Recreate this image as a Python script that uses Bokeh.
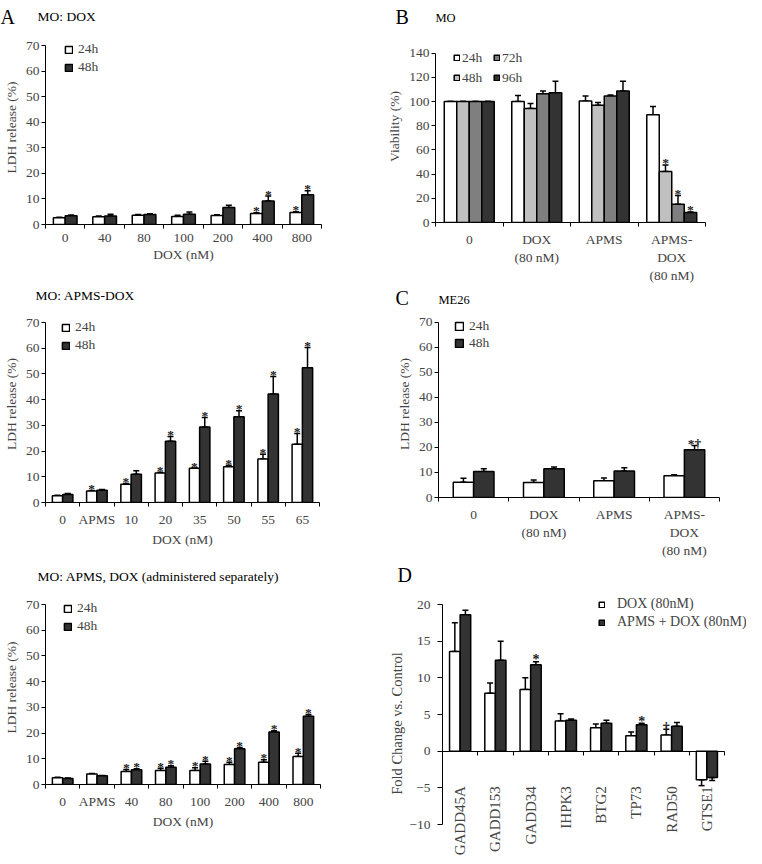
import math
from bokeh.plotting import figure
from bokeh.models import (Range1d, FixedTicker, SingleIntervalTicker, Legend, LegendItem,
                          Whisker, TeeHead, ColumnDataSource, Label)
from bokeh.layouts import row, column
from bokeh.embed import file_html
from bokeh.resources import INLINE
from bokeh.core.properties import value

FONT = "Liberation Serif"

# ---------------- data ----------------
# Panel A (top): MO: DOX
a1_labels = ["0", "40", "80", "100", "200", "400", "800"]
a1_24h = [2.6, 3.0, 3.6, 3.1, 3.5, 4.3, 4.7]
a1_24h_err = [0.2, 0.3, 0.3, 0.5, 0.3, 0.3, 0.3]
a1_48h = [3.4, 3.3, 3.9, 4.0, 6.6, 9.2, 11.6]
a1_48h_err = [0.3, 0.7, 0.3, 0.9, 0.9, 1.9, 1.6]
a1_24h_sig = ["", "", "", "", "", "*", "*"]
a1_48h_sig = ["", "", "", "", "", "*", "*"]

# Panel A (middle): MO: APMS-DOX
a2_labels = ["0", "APMS", "10", "20", "35", "50", "55", "65"]
a2_24h = [2.6, 4.5, 7.1, 11.5, 13.3, 13.9, 16.9, 22.7]
a2_24h_err = [0.2, 0.2, 0.3, 0.3, 0.1, 0.6, 1.9, 4.1]
a2_48h = [3.1, 4.8, 11.0, 23.8, 29.4, 33.3, 42.2, 52.4]
a2_48h_err = [0.4, 0.3, 1.3, 1.9, 3.7, 2.4, 6.8, 7.9]
a2_24h_sig = ["", "*", "*", "*", "*", "*", "*", "*"]
a2_48h_sig = ["", "", "", "*", "*", "*", "*", "*"]

# Panel A (bottom): MO: APMS, DOX (administered separately)
a3_labels = ["0", "APMS", "40", "80", "100", "200", "400", "800"]
a3_24h = [2.6, 4.1, 5.1, 5.4, 5.4, 7.8, 8.7, 10.9]
a3_24h_err = [0.2, 0.2, 0.7, 0.9, 1.1, 0.9, 0.9, 1.3]
a3_48h = [2.3, 3.4, 5.7, 6.7, 8.0, 13.9, 20.4, 26.5]
a3_48h_err = [0.2, 0.1, 0.4, 0.6, 1.0, 0.5, 0.5, 0.7]
a3_24h_sig = ["", "", "*", "*", "*", "*", "*", "*"]
a3_48h_sig = ["", "", "*", "*", "*", "*", "*", "*"]

# Panel B: MO viability
b_labels = ["0", "DOX\n(80 nM)", "APMS", "APMS-\nDOX\n(80 nM)"]
b_24h = [100, 100.0, 100.5, 89.1]
b_24h_err = [0, 5.0, 4.1, 6.8]
b_48h = [100, 94.3, 97.0, 42.1]
b_48h_err = [0, 4.1, 2.2, 5.5]
b_72h = [100, 106.5, 104.6, 15.0]
b_72h_err = [0, 2.2, 0.8, 7.3]
b_96h = [100, 107.3, 108.7, 8.2]
b_96h_err = [0, 9.5, 8.1, 0.5]
b_24h_sig = ["", "", "", ""]
b_48h_sig = ["", "", "", "*"]
b_72h_sig = ["", "", "", "*"]
b_96h_sig = ["", "", "", "*"]

# Panel C: ME26
c_labels = ["0", "DOX\n(80 nM)", "APMS", "APMS-\nDOX\n(80 nM)"]
c_24h = [6.1, 6.0, 6.7, 8.7]
c_24h_err = [1.6, 1.0, 1.1, 0.4]
c_48h = [10.4, 11.5, 10.6, 19.1]
c_48h_err = [1.1, 0.7, 1.3, 1.7]
c_24h_sig = ["", "", "", ""]
c_48h_sig = ["", "", "", "*\u2020"]

# Panel D: gene expression
d_genes = ["GADD45A", "GADD153", "GADD34", "IHPK3", "BTG2", "TP73", "RAD50", "GTSE1"]
d_dox = [13.6, 7.9, 8.4, 4.1, 3.2, 2.1, 2.2, -3.9]
d_dox_err = [3.9, 1.4, 1.6, 1.0, 0.5, 0.5, 0.8, 0.8]
d_apms = [18.6, 12.4, 11.8, 4.2, 3.8, 3.6, 3.4, -3.6]
d_apms_err = [0.6, 2.6, 0.4, 0.2, 0.4, 0.2, 0.5, 0.4]
d_dox_sig = ["", "", "", "", "", "", "\u2020", ""]
d_apms_sig = ["", "", "*", "", "", "*", "", ""]

WHITE, LIGHT, MID, DARK = "#ffffff", "#c0c0c0", "#7f7f7f", "#333333"

# page origin of the layout (observed)
OX, OY = 8, 0


def base_fig(w, h, cl, ct, fl, fr, ytop, ybot, fb, n, ylo, yhi, ystep, ylabel, xlabels,
             xlabel=None, fs="13.5px", yfs="13.5px", ylfs="13.5px", x_ext_right=0,
             ytick_out=4, ystandoff=2, ylab_standoff=4):
    """cl, ct: canvas left/top (page px); fl, fr: frame left/right; ytop/ybot: page px of yhi/ylo;
    fb: frame bottom page px."""
    ppu = (ybot - ytop) / float(yhi - ylo)
    y_end = yhi + (ytop - ct) / ppu
    y_start = ylo - (fb - ybot) / ppu
    xppu = (fr - fl) / float(n)
    p = figure(width=w, height=h, x_range=Range1d(-0.5, n - 0.5 + x_ext_right / xppu),
               y_range=Range1d(y_start, y_end),
               output_backend="svg", toolbar_location=None, frame_align=False,
               min_border_left=int(fl - cl), min_border_right=int(cl + w - fr - x_ext_right),
               min_border_top=0, min_border_bottom=int(ct + h - fb))
    p.outline_line_color = None
    p.grid.visible = False
    p.background_fill_color = "white"
    yax = p.yaxis[0]
    yax.bounds = (ylo, yhi)
    yax.ticker = SingleIntervalTicker(interval=ystep, num_minor_ticks=0)
    yax.minor_tick_line_color = None
    yax.major_tick_out = ytick_out
    yax.major_tick_in = 0
    yax.major_label_standoff = ystandoff
    yax.axis_label = ylabel
    yax.axis_label_standoff = ylab_standoff
    yax.axis_label_text_font = FONT
    yax.axis_label_text_font_style = "normal"
    yax.axis_label_text_font_size = ylfs
    yax.major_label_text_font = FONT
    yax.major_label_text_font_size = yfs
    yax.axis_line_color = "black"
    yax.major_tick_line_color = "black"
    xax = p.xaxis[0]
    xax.bounds = (-0.5, n - 0.5)
    xax.ticker = FixedTicker(ticks=list(range(n)), minor_ticks=[i - 0.5 for i in range(n + 1)])
    xax.major_label_overrides = {i: s for i, s in enumerate(xlabels)}
    xax.major_tick_line_color = None
    xax.major_tick_out = 0
    xax.major_tick_in = 0
    xax.minor_tick_out = 4
    xax.minor_tick_in = 0
    xax.minor_tick_line_color = "black"
    xax.axis_line_color = "black"
    xax.major_label_standoff = 5
    xax.major_label_text_font = FONT
    xax.major_label_text_font_size = fs
    if xlabel:
        xax.axis_label = xlabel
        xax.axis_label_standoff = 2
        xax.axis_label_text_font = FONT
        xax.axis_label_text_font_style = "normal"
        xax.axis_label_text_font_size = fs
    return p


def header(w, h, cl, ct, texts):
    p = figure(width=w, height=h, x_range=Range1d(0, 1), y_range=Range1d(0, 1),
               x_axis_type=None, y_axis_type=None, output_backend="svg",
               toolbar_location=None, min_border=0, frame_align=False)
    p.outline_line_color = None
    p.grid.visible = False
    for ax, ay, t, size in texts:
        p.add_layout(Label(x=ax - cl, y=ct + h - ay, x_units="screen", y_units="screen", text=t,
                           text_font=FONT, text_font_size=size, text_font_style="normal",
                           text_align="left", text_baseline="middle", text_color="black"))
    return p


def bars(p, n, series, width, colors, sig_size="13.5px"):
    k = len(series)
    offsets = [(j - (k - 1) / 2.0) * width for j in range(k)]
    rends = []
    for (vals, errs, sig), off, col in zip(series, offsets, colors):
        x = [i + off for i in range(n)]
        lo = [v - e if v < 0 else v for v, e in zip(vals, errs)]
        hi = [v if v < 0 else v + e for v, e in zip(vals, errs)]
        src = ColumnDataSource(dict(x=x, top=vals, lo=lo, hi=hi, sig=sig))
        r = p.vbar(x="x", top="top", width=width, source=src, fill_color=col,
                   line_color="black", line_width=1.5)
        p.add_layout(Whisker(source=src, base="x", lower="lo", upper="hi", dimension="height",
                             line_width=1.5, line_color="black",
                             upper_head=TeeHead(size=6, line_width=1.5, line_color="black"),
                             lower_head=TeeHead(size=6, line_width=1.5, line_color="black")))
        p.text(x="x", y="hi", text="sig", source=src, text_font=value(FONT),
               text_font_size=sig_size, text_font_style="bold", text_align="center",
               text_baseline="alphabetic", y_offset=-2, text_color="#222222")
        rends.append(r)
    return rends


def add_legend(p, rends, labels, fl, fb, left_abs, bottom_abs, glyph, standoff, lh, spacing,
               size="13.5px", ncols=None, label_width=20):
    kw = {}
    if ncols:
        kw["ncols"] = ncols
    lg = Legend(items=[LegendItem(label=l, renderers=[r]) for l, r in zip(labels, rends)],
                location=(left_abs - fl, fb - bottom_abs), orientation="vertical",
                glyph_width=glyph, glyph_height=glyph, label_height=lh, label_standoff=standoff,
                label_width=label_width,
                spacing=spacing, padding=0, margin=0, border_line_color=None,
                background_fill_alpha=0, label_text_font=FONT, label_text_font_size=size, **kw)
    p.add_layout(lg)


LW, RW = 372, 374
LX, RX = OX, OX + LW

# ---------------- left column ----------------
hA1 = header(LW, 30, LX, OY, [(8, 16, "A", "20px"), (45, 16, "MO: DOX", "13.5px")])
pa1 = base_fig(LW, 245, LX, OY + 30, 46, 329, 45, 224, 224, len(a1_labels), 0, 70, 10,
               "LDH release (%)", a1_labels, "DOX (nM)")
r = bars(pa1, len(a1_labels), [(a1_24h, a1_24h_err, a1_24h_sig), (a1_48h, a1_48h_err, a1_48h_sig)],
         0.3, [WHITE, DARK])
add_legend(pa1, r, ["24h", "48h"], 46, 224, 65, 75, 9, 5, 16, 2)

hA2 = header(LW, 30, LX, OY + 275, [(43, 295, "MO: APMS-DOX", "13.5px")])
pa2 = base_fig(LW, 255, LX, OY + 305, 45, 327, 322, 502, 502, len(a2_labels), 0, 70, 10,
               "LDH release (%)", a2_labels, "DOX (nM)")
r = bars(pa2, len(a2_labels), [(a2_24h, a2_24h_err, a2_24h_sig), (a2_48h, a2_48h_err, a2_48h_sig)],
         0.3, [WHITE, DARK])
add_legend(pa2, r, ["24h", "48h"], 45, 502, 61, 353, 9, 5, 16, 2)

hA3 = header(LW, 30, LX, OY + 560, [(45, 576, "MO: APMS, DOX (administered separately)", "13.5px")])
pa3 = base_fig(LW, 266, LX, OY + 590, 45, 328, 604, 784, 784, len(a3_labels), 0, 70, 10,
               "LDH release (%)", a3_labels, "DOX (nM)")
r = bars(pa3, len(a3_labels), [(a3_24h, a3_24h_err, a3_24h_sig), (a3_48h, a3_48h_err, a3_48h_sig)],
         0.3, [WHITE, DARK])
add_legend(pa3, r, ["24h", "48h"], 45, 784, 63, 634, 9, 5, 16, 2)

# ---------------- right column ----------------
hB = header(RW, 30, RX, OY, [(403, 16, "B", "20px"), (443, 17, "MO", "12.5px")])
pb = base_fig(RW, 255, RX, OY + 30, 443, 713, 53, 224, 224, len(b_labels), 0, 140, 20,
              "Viability (%)", b_labels)
r = bars(pb, len(b_labels), [(b_24h, b_24h_err, b_24h_sig), (b_48h, b_48h_err, b_48h_sig),
                             (b_72h, b_72h_err, b_72h_sig), (b_96h, b_96h_err, b_96h_sig)],
         0.185, [WHITE, LIGHT, MID, DARK])
add_legend(pb, r, ["24h", "48h", "72h", "96h"], 443, 224, 461, 88, 7, 2, 17, 3, ncols=2,
           label_width=28)

hC = header(RW, 25, RX, OY + 285, [(403, 297, "C", "20px"), (446, 299, "ME26", "12.5px")])
pc = base_fig(RW, 250, RX, OY + 310, 446, 727, 322, 502, 502, len(c_labels), 0, 70, 10,
              "LDH release (%)", c_labels)
r = bars(pc, len(c_labels), [(c_24h, c_24h_err, c_24h_sig), (c_48h, c_48h_err, c_48h_sig)],
         0.29, [WHITE, DARK])
add_legend(pc, r, ["24h", "48h"], 446, 502, 462, 356, 10, 5, 16, 1)

hD = header(RW, 30, RX, OY + 560, [(405, 574, "D", "20px")])
pd_ = base_fig(RW, 266, RX, OY + 590, 450, 732, 604, 824, OY + 856, len(d_genes), -10, 20, 5,
               "Fold Change vs. Control", d_genes, fs="15px", yfs="13.5px", ylfs="14.5px",
               x_ext_right=22, ytick_out=5, ystandoff=7, ylab_standoff=1)
xd = pd_.xaxis[0]
xd.fixed_location = 0
xd.major_label_orientation = math.pi / 2
xd.major_label_standoff = 31
r = bars(pd_, len(d_genes), [(d_dox, d_dox_err, d_dox_sig), (d_apms, d_apms_err, d_apms_sig)],
         0.3, [WHITE, DARK], sig_size="14px")
add_legend(pd_, r, ["DOX (80nM)", "APMS + DOX (80nM)"], 450, OY + 856, 606, 630, 7, 12, 16, 2,
           size="14px")

layout = row(column(hA1, pa1, hA2, pa2, hA3, pa3), column(hB, pb, hC, pc, hD, pd_))

with open("out.html", "w") as f:
    f.write(file_html(layout, INLINE))
